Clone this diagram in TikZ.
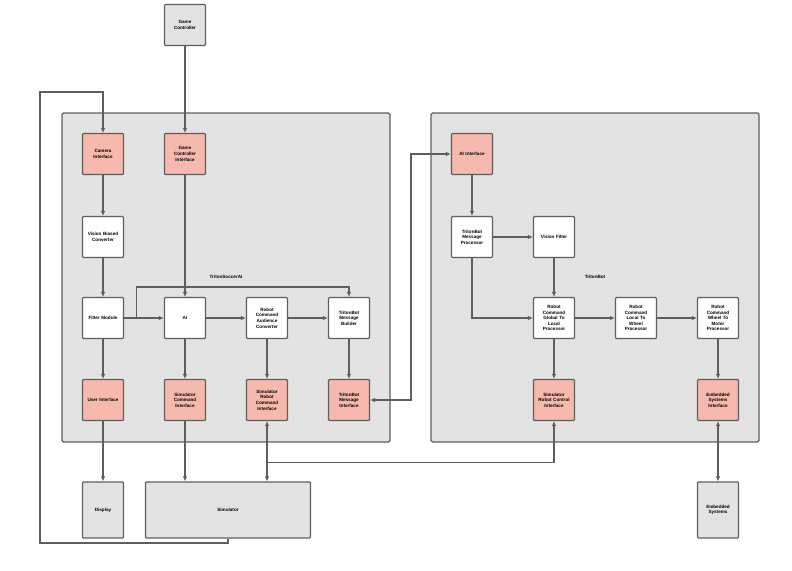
\documentclass[tikz,border=0pt]{standalone}
\usepackage{fontspec}
\setmainfont{Liberation Sans}
\usetikzlibrary{arrows.meta}
\definecolor{panelgray}{HTML}{E3E3E3}
\definecolor{ifacepink}{HTML}{F7B8AE}
\definecolor{edgegray}{HTML}{5E5E5E}
\begin{document}
\begin{tikzpicture}[x=1pt,y=-1pt,
    box/.style={draw=edgegray,line width=1.1pt,rounded corners=1pt,minimum width=41pt,minimum height=41pt,
      text width=39pt,align=center,inner sep=0pt,font=\fontsize{4.6}{5.6}\selectfont\bfseries,fill=white},
    iface/.style={box,fill=ifacepink},
    ext/.style={box,fill=panelgray,minimum height=56pt},
    panel/.style={draw=edgegray,line width=1.1pt,rounded corners=1.5pt,fill=panelgray},
    flow/.style={draw=edgegray,line width=1.1pt,-{Latex[length=5pt,width=4.5pt]}},
    both/.style={flow,{Latex[length=5pt,width=4.5pt]}-{Latex[length=5pt,width=4.5pt]}}]
  \useasboundingbox (0,0) rectangle (792,570);

  % panels
  \draw[panel] (62,113) rectangle (390,442);
  \draw[panel] (431,113) rectangle (759,442);
  \node[font=\fontsize{4.6}{5}\selectfont\bfseries] (soccerlabel) at (226,277) {TritonSoccerAI};
  \node[font=\fontsize{4.6}{5}\selectfont\bfseries] (botlabel) at (595,277) {TritonBot};

  % outside
  \node[box,fill=panelgray] (gc) at (185,25) {Game\\Controller};
  \node[ext] (display) at (103,510) {Display};
  \node[ext,minimum width=165pt,text width=160pt] (sim) at (228,510) {Simulator};
  \node[ext] (embedded) at (718,510) {Embedded\\Systems};

  % TritonSoccerAI
  \node[iface] (camif) at (103,154) {Camera\\Interface};
  \node[iface] (gcif) at (185,154) {Game\\Controller\\Interface};
  \node[box] (vision) at (103,237) {Vision Biased\\Converter};
  \node[box] (filter) at (103,318) {Filter Module};
  \node[box] (ai) at (185,318) {AI};
  \node[box] (audience) at (267,318) {Robot\\Command\\Audience\\Converter};
  \node[box] (builder) at (349,318) {TritonBot\\Message\\Builder};
  \node[iface] (userif) at (103,400) {User Interface};
  \node[iface] (simcmdif) at (185,400) {Simulator\\Command\\Interface};
  \node[iface] (simrobotif) at (267,400) {Simulator\\Robot\\Command\\Interface};
  \node[iface] (msgif) at (349,400) {TritonBot\\Message\\Interface};

  % TritonBot
  \node[iface] (aiif) at (472,154) {AI Interface};
  \node[box] (processor) at (472,237) {TritonBot\\Message\\Processor};
  \node[box] (vfilter) at (554,237) {Vision Filter};
  \node[box] (global) at (554,318) {Robot\\Command\\Global To\\Local\\Processor};
  \node[box] (wheel) at (636,318) {Robot\\Command\\Local To\\Wheel\\Processor};
  \node[box] (motor) at (718,318) {Robot\\Command\\Wheel To\\Motor\\Processor};
  \node[iface] (ctrlif) at (554,400) {Simulator\\Robot Control\\Interface};
  \node[iface] (embif) at (718,400) {Embedded\\Systems\\Interface};

  % connectors
  \draw[flow] (gc) -- (gcif);
  \draw[flow] (gcif) -- (ai);
  \draw[flow] (camif) -- (vision);
  \draw[flow] (vision) -- (filter);
  \draw[flow] (filter) -- (ai);
  \draw[flow] (ai) -- (audience);
  \draw[flow] (audience) -- (builder);
  \draw[flow] (filter.east) ++(12,0) |- (334,287) -| (builder.north);
  \draw[flow] (filter) -- (userif);
  \draw[flow] (ai) -- (simcmdif);
  \draw[flow] (audience) -- (simrobotif);
  \draw[flow] (builder) -- (msgif);
  \draw[flow] (userif) -- (display);
  \draw[flow] (simcmdif) -- (simcmdif |- sim.north);
  \draw[both] (simrobotif) -- (simrobotif |- sim.north);
  \draw[flow] (simrobotif.south) ++(0,41) -| (ctrlif.south);
  \draw[both] (msgif.east) -- (411,400) |- (aiif.west);
  \draw[flow] (aiif) -- (processor);
  \draw[flow] (processor) -- (vfilter);
  \draw[flow] (processor) |- (global);
  \draw[flow] (vfilter) -- (global);
  \draw[flow] (global) -- (wheel);
  \draw[flow] (wheel) -- (motor);
  \draw[flow] (global) -- (ctrlif);
  \draw[flow] (motor) -- (embif);
  \draw[both] (embif) -- (embedded);
  \draw[flow] (sim.south) -- (228,543) -| (40,92) -| (camif.north);
\end{tikzpicture}
\end{document}
